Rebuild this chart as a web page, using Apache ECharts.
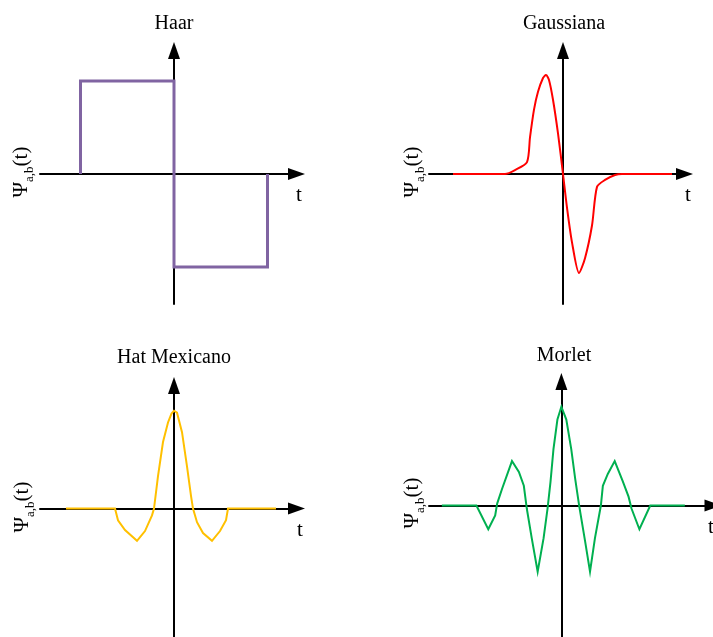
<!DOCTYPE html>
<html>
<head>
<meta charset="utf-8">
<title>Wavelets</title>
<script src="https://cdn.jsdelivr.net/npm/echarts@6/dist/echarts.min.js"></script>
<style>
  html, body { margin: 0; padding: 0; background: #fff; }
  #chart { width: 713px; height: 637px; }
</style>
</head>
<body>
<div id="chart"></div>
<script>
// Wavelet shapes: time t and amplitude psi for each mother wavelet
const titles = ['Haar', 'Gaussiana', 'Hat Mexicano', 'Morlet'];
const colors = ['#8064A2', '#FF0000', '#FFC000', '#00B050'];

const tHaar   = [-1, -1, 0, 0, 1, 1];
const psiHaar = [0, 1, 1, -1, -1, 0];

const tGauss   = [-11.0, -5.8, -4.8, -3.6, -3.3, -2.9, -2.5, -2.0, -1.7, -1.4, -1.0, -0.5, 0,
                  0.4, 0.9, 1.6, 2.2, 2.9, 3.4, 4.2, 5.2, 5.9, 10.9];
const psiGauss = [0, 0, 0.04, 0.12, 0.37, 0.65, 0.83, 0.97, 1.0, 0.95, 0.75, 0.41, 0,
                  -0.34, -0.69, -1.0, -0.85, -0.52, -0.13, -0.06, -0.01, 0, 0];

const tHat   = [-10.8, -5.9, -5.6, -4.9, -3.7, -2.9, -2.2, -2.0, -1.6, -1.1, -0.6, -0.25, 0,
                0.3, 0.8, 1.3, 1.7, 1.9, 2.3, 2.9, 3.8, 4.6, 5.2, 5.4, 10.2];
const psiHat = [0, 0, -0.12, -0.22, -0.33, -0.23, -0.07, 0, 0.33, 0.68, 0.88, 0.97, 1.0,
                0.98, 0.78, 0.43, 0.13, 0, -0.14, -0.25, -0.33, -0.23, -0.12, 0, 0];

const tMorlet   = [-12.1, -8.6, -7.4, -6.7, -6.5, -6.0, -5.0, -4.3, -3.8, -3.5, -3.0, -2.4, -1.8,
                   -1.4, -1.1, -0.8, -0.4, 0, 0.5, 1.0, 1.4, 1.8, 2.4, 2.9, 3.4, 4.0, 4.2,
                   4.7, 5.4, 6.2, 6.8, 7.1, 7.9, 9.0, 12.5];
const psiMorlet = [0, 0, -0.24, -0.10, 0.02, 0.17, 0.45, 0.34, 0.20, -0.03, -0.33, -0.67, -0.33,
                   -0.03, 0.24, 0.57, 0.87, 1.0, 0.87, 0.57, 0.27, 0, -0.36, -0.67, -0.33, 0, 0.20,
                   0.32, 0.45, 0.25, 0.09, -0.03, -0.24, 0, 0];

const tValues = [tHaar, tGauss, tHat, tMorlet];
const psiValues = [psiHaar, psiGauss, psiHat, psiMorlet];

// Panel geometry: origin (ox, oy), pixels per unit (sx, sy), axis extents, line look
const panels = [
  { ox: 174, oy: 174, sx: 93.5, sy: 93,  x0: 40,  x1: 296.5, y0: 50.5,  y1: 304, w: 3, smooth: false },
  { ox: 563, oy: 174, sx: 10,   sy: 99,  x0: 429, x1: 684.5, y0: 50.5,  y1: 304, w: 2, smooth: 0.25 },
  { ox: 174, oy: 510, sx: 10,   sy: 99,  x0: 40,  x1: 296.5, y0: 385.5, y1: 640, w: 2, smooth: false },
  { ox: 563, oy: 507, sx: 10,   sy: 100, x0: 429, x1: 716.5, y0: 381.5, y1: 640, w: 2, smooth: false }
];

const serif = '"Liberation Serif", "Times New Roman", serif';
const axisLine = {
  onZero: true,
  symbol: ['none', 'triangle'],
  symbolSize: [12, 17],
  lineStyle: { color: '#000', width: 2 }
};

const grid = [], xAxis = [], yAxis = [], series = [];
panels.forEach(function (p, i) {
  grid.push({ left: p.x0, top: p.y0, width: p.x1 - p.x0, height: p.y1 - p.y0, containLabel: false });
  xAxis.push({
    type: 'value', gridIndex: i,
    min: (p.x0 - p.ox) / p.sx, max: (p.x1 - p.ox) / p.sx,
    axisLine: axisLine, axisTick: { show: false }, axisLabel: { show: false }, splitLine: { show: false }
  });
  yAxis.push({
    type: 'value', gridIndex: i,
    min: (p.oy - p.y1) / p.sy, max: (p.oy - p.y0) / p.sy,
    axisLine: axisLine, axisTick: { show: false }, axisLabel: { show: false }, splitLine: { show: false }
  });
  series.push({
    name: titles[i], type: 'line', xAxisIndex: i, yAxisIndex: i,
    data: tValues[i].map(function (t, k) { return [t, psiValues[i][k]]; }),
    showSymbol: false, symbol: 'none', smooth: p.smooth,
    lineStyle: { color: colors[i], width: p.w, join: 'miter' },
    z: 5
  });
});

// Titles, axis names and psi labels
const titlePos = [[174, 24], [564, 24], [174, 358], [564, 356]];
const tPos = [[299, 195], [688, 195], [300, 530], [711, 527]];
const psiPos = [[20, 172], [411, 172], [21, 507], [411, 503]];

const graphic = [];
titles.forEach(function (name, i) {
  graphic.push({
    type: 'text', x: titlePos[i][0], y: titlePos[i][1],
    style: { text: name, font: '20px ' + serif, fill: '#000', align: 'center', verticalAlign: 'middle' }
  });
  graphic.push({
    type: 'text', x: tPos[i][0], y: tPos[i][1],
    style: { text: 't', font: '21px ' + serif, fill: '#000', align: 'center', verticalAlign: 'middle' }
  });
  graphic.push({
    type: 'text', x: psiPos[i][0], y: psiPos[i][1], rotation: Math.PI / 2,
    style: {
      text: '{m|Ψ}{s|a,b}{m|(t)}',
      fill: '#000', align: 'center', verticalAlign: 'middle',
      rich: {
        m: { fontFamily: serif, fontSize: 21, lineHeight: 24, verticalAlign: 'bottom' },
        s: { fontFamily: serif, fontSize: 13, lineHeight: 14, verticalAlign: 'bottom', padding: [0, 0, -4, 0] }
      }
    }
  });
});

const chart = echarts.init(document.getElementById('chart'), null, { renderer: 'canvas' });
chart.setOption({
  animation: false,
  backgroundColor: '#fff',
  grid: grid,
  xAxis: xAxis,
  yAxis: yAxis,
  series: series,
  graphic: graphic
});
</script>
</body>
</html>
